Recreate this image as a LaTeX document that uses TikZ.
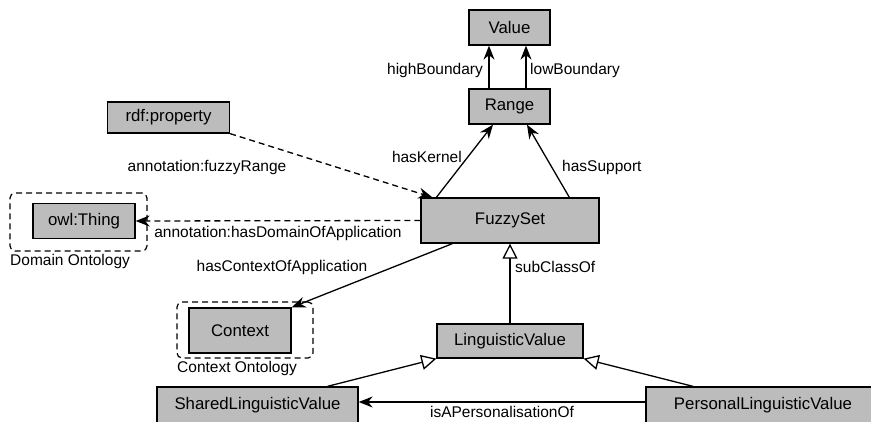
\documentclass[tikz,border=0pt]{standalone}
\usepackage{fontspec}
\setmainfont{Liberation Sans}
\usetikzlibrary{arrows.meta,calc}
\definecolor{boxfill}{RGB}{188,188,188}
\tikzset{
  cls/.style={draw=black, line width=1.3pt, fill=boxfill, inner sep=0pt,
    font=\fontsize{16.8}{19}\selectfont},
  lbl/.style={inner sep=0pt, font=\fontsize{15.5}{17}\selectfont},
  conn/.style={line width=1.3pt, -{Stealth[length=14pt,width=11pt]}},
  dconn/.style={conn, dash pattern=on 6pt off 4pt},
  isa/.style={line width=1.3pt, -{Triangle[open,length=15pt,width=15pt,fill=white]}},
  grp/.style={draw=black, line width=1.2pt, dash pattern=on 6pt off 4pt, rounded corners=5pt},
}
\begin{document}
\begin{tikzpicture}[x=1pt,y=-1pt]
\useasboundingbox (0,0) rectangle (871,421);
\clip (0,0) rectangle (871,421);
% groups
\node[grp, minimum width=137pt, minimum height=58pt] (dom) at (78.5,222) {};
\node[grp, minimum width=136pt, minimum height=56pt] (ctxg) at (245,330) {};
% classes
\node[cls, minimum width=81pt, minimum height=35pt] (value) at (509.5,27.5) {Value};
\node[cls, minimum width=81pt, minimum height=35pt] (range) at (509.5,106.5) {Range};
\node[cls, minimum width=122pt, minimum height=31pt] (rdf) at (168.5,117.5) {rdf:property};
\node[cls, minimum width=102pt, minimum height=35pt] (owl) at (84,221) {owl:Thing};
\node[cls, minimum width=178pt, minimum height=45pt] (fuzzy) at (510,220.5) {FuzzySet};
\node[cls, minimum width=102pt, minimum height=45pt] (context) at (240,330.5) {Context};
\node[cls, minimum width=146pt, minimum height=34pt] (ling) at (510,341) {LinguisticValue};
\node[cls, minimum width=201pt, minimum height=36pt] (shared) at (257.5,405) {SharedLinguisticValue};
\node[cls, minimum width=234pt, minimum height=36pt] (personal) at (763,405) {PersonalLinguisticValue};
% group labels
\node[lbl, anchor=base west] (domlbl) at (10,265) {Domain Ontology};
\node[lbl, anchor=base west] (ctxlbl) at (177,372) {Context Ontology};
% connectors
\draw[conn] ($(range.north)+(-20.5,0)$) -- ($(value.south)+(-20.5,0)$);
\draw[conn] ($(range.north)+(16.5,0)$) -- ($(value.south)+(16.5,0)$);
\node[lbl, anchor=east] (hb) at (483,70) {highBoundary};
\node[lbl, anchor=west] (lb) at (530,70) {lowBoundary};
\draw[conn] ($(fuzzy.north west)+(16,0)$) -- ($(range.south)+(-16.5,0)$);
\draw[conn] ($(fuzzy.north west)+(149,0)$) -- ($(range.south)+(17.5,0)$);
\node[lbl, anchor=east] (hk) at (462,157) {hasKernel};
\node[lbl, anchor=west] (hs) at (562,167) {hasSupport};
\draw[dconn] (rdf.south east) -- ($(fuzzy.north west)+(12,0)$);
\node[lbl] (afr) at (207,167) {annotation:fuzzyRange};
\draw[dconn] (fuzzy.west) -- (owl.east);
\node[lbl] (ahd) at (278,233) {annotation:hasDomainOfApplication};
\draw[conn] ($(fuzzy.south west)+(32,0)$) -- (context.north east);
\node[lbl] (hca) at (282,267) {hasContextOfApplication};
\draw[isa] (ling.north) -- (fuzzy.south);
\node[lbl, anchor=west] (sco) at (515,267) {subClassOf};
\draw[isa] ($(shared.north)+(70,0)$) -- (ling.south west);
\draw[isa] ($(personal.north)+(-70,0)$) -- (ling.south east);
\draw[conn] (personal.west |- 0,402) -- (shared.east |- 0,402);
\node[lbl, anchor=base] (iap) at (502,417) {isAPersonalisationOf};
\end{tikzpicture}
\end{document}
